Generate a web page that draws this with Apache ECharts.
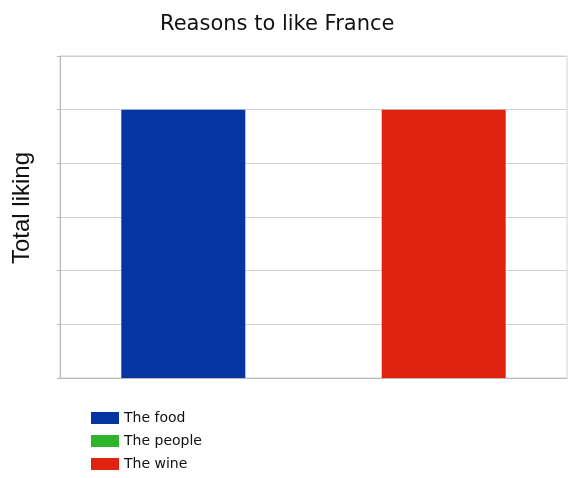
<!DOCTYPE html>
<html>
<head>
<meta charset="utf-8">
<style>
  html, body { margin: 0; padding: 0; background: #fff; }
  #chart { width: 582px; height: 478px; }
</style>
<script src="https://cdn.jsdelivr.net/npm/echarts@6/dist/echarts.min.js"></script>
</head>
<body>
<div id="chart"></div>
<script>
const categories = ['France']
const seriesNames = ['The food', 'The people', 'The wine']
const seriesValues = [[5], [0], [5]]
const seriesColors = ['#0535a3', '#2fb52b', '#e0230f']

const chart = echarts.init(document.getElementById('chart'))

const series = seriesNames.map((name, i) => ({
  name,
  type: 'bar',
  data: seriesValues[i],
  barWidth: 124,
  barGap: '5%',
  itemStyle: { color: seriesColors[i] }
}))

chart.setOption({
  animation: false,
  title: {
    text: 'Reasons to like France',
    left: 155,
    top: 9,
    textStyle: {
      fontFamily: 'DejaVu Sans',
      fontSize: 21,
      fontWeight: 'normal',
      color: '#111'
    }
  },
  legend: {
    orient: 'vertical',
    left: 91,
    top: 411,
    height: 70,
    padding: 0,
    itemWidth: 28,
    itemHeight: 12,
    itemGap: 9,
    icon: 'rect',
    data: seriesNames,
    textStyle: {
      fontFamily: 'DejaVu Sans',
      fontSize: 14,
      color: '#111'
    }
  },
  grid: {
    left: 60,
    right: 15,
    top: 56,
    bottom: 100,
    containLabel: false,
    show: true,
    borderColor: '#d0d0d0',
    borderWidth: 1
  },
  xAxis: {
    type: 'category',
    data: categories,
    axisLine: { lineStyle: { color: '#bbb' } },
    axisTick: { show: false },
    axisLabel: { show: false }
  },
  yAxis: {
    type: 'value',
    min: 0,
    max: 6,
    interval: 1,
    name: 'Total liking',
    nameLocation: 'middle',
    nameGap: 26,
    nameTextStyle: {
      fontFamily: 'Liberation Sans',
      fontSize: 24,
      color: '#111',
      padding: [0, 0, 0, 18]
    },
    axisLine: { show: true, lineStyle: { color: '#bbb' } },
    axisTick: { show: true, length: 3, lineStyle: { color: '#bbb' } },
    axisLabel: { show: false },
    splitLine: { lineStyle: { color: '#d0d0d0' } }
  },
  series
})
</script>
</body>
</html>
